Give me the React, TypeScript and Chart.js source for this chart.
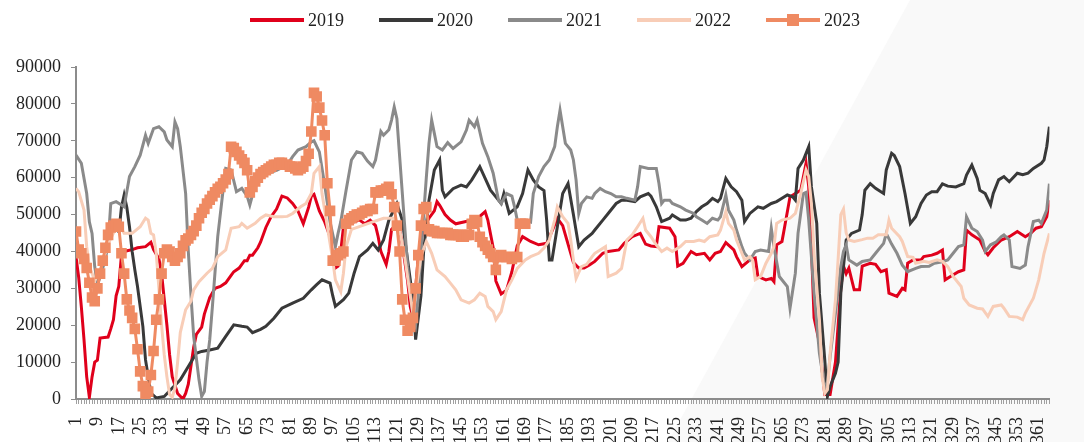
import React, { useEffect, useRef } from 'react';
import { Chart, registerables } from 'chart.js';

Chart.register(...registerables);

const SERIES_NAMES = ['2019', '2020', '2021', '2022', '2023'];
const COLORS = ['#e0001b', '#393939', '#8a8a8a', '#f8cdb7', '#ef8a62'];
const FONT_FAMILY = '"Liberation Serif", "Times New Roman", serif';

const X_LABELS = [1, 9, 17, 25, 33, 41, 49, 57, 65, 73, 81, 89, 97, 105, 113, 121, 129, 137, 145, 153, 161, 169, 177, 185, 193, 201, 209, 217, 225, 233, 241, 249, 257, 265, 273, 281, 289, 297, 305, 313, 321, 329, 337, 345, 353, 361];
const Y_MIN = 0;
const Y_MAX = 90000;
const Y_STEP = 10000;

// [day, value]
const s2019: [number, number][] = [[1,38500],[2,33000],[3,25000],[4,16000],[5,6000],[6,500],[7,6000],[8,10000],[9,10500],[10,16500],[13,16800],[14,19000],[15,21500],[16,28000],[17,30500],[18,39000],[19,40000],[22,40500],[24,41000],[27,41300],[29,42500],[30,40500],[32,38000],[33,34000],[35,20000],[36,12000],[37,6000],[39,1500],[41,0],[42,1500],[43,4000],[44,9000],[45,14000],[46,17500],[48,19500],[49,23000],[51,27500],[53,30000],[55,30500],[57,31500],[59,33500],[60,34500],[62,35500],[64,37500],[65,37500],[66,39000],[67,39000],[69,41000],[70,42500],[72,46500],[74,49500],[76,51500],[78,55000],[80,54500],[82,53000],[84,51000],[86,47500],[88,52000],[89,55000],[90,55500],[92,51000],[94,48000],[96,44000],[97,39000],[98,35500],[99,36000],[100,40000],[101,46500],[103,49000],[105,48000],[107,48500],[109,47500],[111,48500],[113,47000],[114,44000],[115,40000],[117,36500],[118,40000],[119,46000],[121,47500],[122,46000],[123,42000],[125,32000],[126,25000],[127,22000],[128,30000],[129,38500],[130,43000],[131,46500],[133,49000],[135,51000],[136,53500],[137,52500],[139,50000],[141,48500],[143,47500],[146,48000],[149,48500],[152,49500],[154,50800],[155,48500],[157,41000],[158,32000],[160,28500],[162,29500],[164,34500],[166,41500],[168,44000],[171,42700],[174,41800],[177,42200],[179,45500],[181,49000],[183,47000],[185,42000],[187,37000],[189,35500],[191,35500],[193,36300],[195,37300],[198,39500],[200,40000],[204,40400],[206,42200],[209,44000],[212,44900],[214,42000],[216,41500],[218,41300],[219,46700],[223,46300],[225,44000],[226,36000],[228,36800],[231,40000],[233,39100],[236,39500],[238,37700],[240,39500],[242,40000],[244,42400],[247,40400],[248,38600],[250,35900],[253,37700],[255,38200],[256,33200],[259,32300],[261,32700],[262,31800],[263,41800],[265,42700],[266,46700],[268,54800],[270,55700],[272,56600],[274,63900],[275,57500],[276,41300],[277,22000],[279,15200],[280,8000],[281,1200],[283,1200],[285,10000],[286,20000],[287,30000],[288,36000],[289,34000],[290,35500],[292,29600],[294,29600],[295,36000],[298,36800],[300,36500],[302,34500],[304,35000],[305,28700],[308,27800],[310,30000],[311,29600],[312,36800],[314,37700],[317,37700],[318,38600],[321,39000],[323,39500],[325,40400],[326,32300],[328,33200],[331,34500],[333,35000],[334,45800],[336,44500],[339,43100],[341,40000],[342,39100],[344,41000],[347,43100],[350,44000],[353,45400],[356,44000],[358,44900],[360,46300],[362,46700],[364,49400],[365,53900]];

const s2020: [number, number][] = [[17,45000],[18,52000],[19,55300],[20,52000],[21,46700],[22,40000],[23,35000],[24,30500],[26,19700],[27,10600],[29,1600],[31,300],[34,700],[37,3000],[40,5200],[43,8800],[46,12400],[48,12900],[51,13300],[54,13800],[57,17000],[60,20100],[63,19700],[65,19500],[67,18000],[70,18900],[72,19700],[75,21900],[78,24600],[82,26000],[86,27300],[89,29600],[91,31000],[93,32300],[96,31400],[97,28000],[98,25100],[101,26900],[103,28700],[105,34100],[107,38600],[110,40400],[112,42200],[114,40400],[116,43100],[118,48500],[121,53000],[123,48500],[125,37700],[127,26900],[128,16100],[130,28000],[131,40000],[132,47000],[133,53900],[135,62100],[137,64800],[138,56600],[139,54800],[142,57000],[145,58000],[147,57500],[149,59400],[152,63000],[154,59800],[156,56600],[158,54800],[160,53000],[161,55700],[163,50300],[166,52100],[168,55700],[170,62100],[172,59400],[174,57500],[176,56500],[177,48500],[178,37700],[179,37700],[181,46700],[183,55700],[185,58400],[187,50000],[189,41300],[191,43100],[194,44900],[195,45800],[198,48500],[200,50300],[203,53000],[205,53900],[207,53900],[210,53500],[212,54800],[215,55700],[216,55000],[218,52100],[220,48100],[223,49000],[224,49900],[227,48500],[229,48500],[231,49000],[233,50800],[235,52100],[237,53000],[239,54400],[241,53500],[242,54400],[244,59800],[246,57500],[248,56200],[250,53900],[251,48100],[253,50300],[256,52100],[258,51700],[261,53000],[263,53500],[265,54400],[267,55300],[269,54800],[270,53900],[271,62500],[273,64800],[275,68400],[276,57500],[278,47600],[279,28700],[281,10600],[282,700],[283,3400],[285,7000],[286,10000],[287,28700],[289,43100],[291,44900],[294,45800],[295,50000],[296,56600],[298,58400],[300,57100],[303,55700],[304,62100],[306,66600],[307,66000],[309,63000],[311,55700],[313,47600],[315,49400],[317,53000],[319,55300],[321,56200],[323,56200],[325,58300],[327,57700],[330,57500],[333,58400],[334,60700],[336,63400],[338,59800],[339,56600],[341,55700],[343,52600],[344,55700],[346,59400],[348,60300],[350,58900],[353,61200],[355,60800],[357,61200],[359,62500],[362,63900],[363,64800],[364,68400],[365,73800]];

const s2021: [number, number][] = [[1,66100],[3,63900],[5,55700],[6,48000],[7,44900],[8,35900],[9,31000],[10,33000],[12,38000],[13,42000],[14,53000],[16,53500],[18,52600],[19,52100],[21,60300],[23,63000],[25,66100],[27,71500],[28,69300],[30,73300],[32,73800],[34,72400],[35,70200],[37,68400],[38,75100],[39,73300],[40,68400],[42,55700],[43,40000],[44,28000],[45,17000],[47,5200],[48,700],[49,2000],[50,10000],[51,16000],[52,25000],[54,44000],[56,56600],[57,62500],[59,62100],[61,56200],[63,57100],[65,55000],[66,52600],[68,58000],[72,61000],[76,62000],[80,63500],[82,65700],[84,67500],[87,68400],[89,69700],[90,70000],[92,67000],[94,58000],[96,48000],[98,41300],[99,44900],[100,48000],[102,56600],[104,64800],[106,67000],[108,66600],[110,64500],[112,63000],[113,64800],[115,72500],[116,71500],[118,73000],[119,75600],[120,79200],[121,76000],[122,66000],[123,56000],[124,46000],[125,36000],[127,22400],[128,20000],[129,28000],[130,40000],[131,50000],[132,60000],[133,69300],[134,75600],[135,72000],[136,68400],[138,67500],[140,69500],[142,67900],[145,69700],[147,72900],[148,75600],[150,73800],[151,75600],[153,69300],[155,65700],[157,61200],[159,53900],[160,53000],[162,55700],[164,55000],[165,52100],[166,48500],[167,47500],[169,48500],[171,48000],[172,55700],[174,60300],[176,63000],[178,64800],[180,68400],[181,73800],[182,78300],[183,73800],[184,69300],[186,67500],[187,64800],[188,59400],[189,50300],[190,53000],[192,54800],[194,54400],[195,55700],[197,57100],[199,56200],[201,55700],[203,54800],[205,54800],[207,54400],[210,53900],[211,57500],[212,63000],[215,62500],[218,62500],[219,58400],[220,53000],[221,53900],[223,53900],[224,53000],[227,52100],[229,51200],[232,50300],[233,49400],[235,48500],[237,47600],[239,49000],[241,48500],[242,49400],[244,55300],[245,51200],[247,48500],[248,45800],[250,41300],[251,39500],[253,37700],[255,40000],[257,40400],[260,40000],[261,46300],[262,41300],[264,33200],[267,30500],[268,24600],[270,34100],[271,44900],[273,55700],[274,56000],[275,48500],[277,28700],[279,12400],[281,3000],[282,4500],[283,11500],[285,23300],[287,35900],[288,40000],[289,41800],[290,37700],[293,36300],[295,37300],[298,37700],[300,39500],[303,42200],[304,44900],[306,42000],[308,39500],[310,36300],[312,34500],[315,35400],[317,35900],[320,36000],[322,36800],[325,37200],[327,37700],[329,39500],[331,41300],[333,41800],[334,49400],[336,46300],[338,45400],[340,43100],[341,40000],[343,41800],[345,42500],[347,44000],[348,44500],[350,43100],[351,35900],[354,35400],[356,36300],[357,41300],[359,48100],[361,48500],[362,47600],[364,51200],[365,58400]];

const s2022: [number, number][] = [[1,57100],[2,56200],[4,51200],[5,41300],[6,35900],[7,34100],[8,32000],[10,35000],[13,42000],[15,45000],[17,47600],[19,44900],[22,44900],[25,46700],[27,49000],[28,48500],[29,44900],[30,44500],[31,39500],[32,30000],[33,20000],[34,12000],[35,6000],[36,1200],[37,500],[38,3000],[39,10000],[40,18000],[42,24200],[44,26500],[45,29600],[47,31800],[50,34100],[52,35400],[54,38600],[57,40400],[59,46300],[62,46700],[63,47600],[65,46300],[68,47600],[70,49000],[72,49900],[75,49400],[78,49400],[80,49500],[82,50300],[85,52100],[87,53000],[89,55700],[90,61200],[92,63000],[93,55700],[95,46700],[97,37700],[98,32300],[100,29100],[101,34100],[102,41300],[104,46000],[108,47000],[112,48000],[116,49000],[120,49000],[122,46000],[124,38000],[126,28000],[127,23300],[128,28700],[130,38600],[132,42700],[134,39500],[136,35000],[139,33200],[141,31400],[143,29600],[145,26900],[148,26000],[150,26900],[152,28700],[154,27800],[155,25100],[157,23700],[158,21500],[160,23700],[162,29600],[164,32300],[166,35400],[169,37700],[171,38600],[174,39500],[176,40900],[178,43100],[180,48500],[181,52100],[183,49400],[185,47600],[186,43100],[187,37700],[188,32700],[190,35900],[192,36500],[194,38600],[195,39500],[197,40400],[199,41300],[200,33200],[203,34100],[205,35400],[207,43100],[209,44500],[211,46700],[213,49000],[214,45800],[216,44000],[218,41800],[220,40000],[222,40900],[224,40000],[227,41300],[229,42700],[232,42700],[234,43100],[236,42700],[238,44000],[241,44500],[242,45800],[244,50800],[245,47600],[247,45800],[248,43100],[250,39500],[251,37700],[253,38600],[254,37700],[255,32300],[257,33200],[259,36800],[261,39500],[262,41300],[263,47600],[265,48500],[268,49000],[270,50300],[272,55700],[274,62100],[275,60300],[276,53000],[277,39500],[279,21500],[280,6100],[281,1500],[282,2500],[283,12400],[285,26900],[286,38000],[287,50000],[288,51500],[289,45000],[290,43100],[292,42700],[295,43200],[297,43600],[299,43600],[301,44500],[304,44500],[305,48500],[306,46300],[309,44000],[310,42700],[312,38600],[314,38400],[315,36800],[318,37300],[320,37000],[323,37700],[325,37300],[327,35900],[329,33200],[332,30500],[333,27300],[335,25500],[338,24600],[340,24400],[342,22400],[344,25100],[347,25500],[348,24600],[350,22400],[353,22200],[355,21500],[356,23300],[358,26000],[359,27300],[361,32300],[363,39500],[365,44900]];

// 2023: daily values from day 1
const v2023: number[] = [
  45400, 40500, 39500, 38000, 35500, 31500, 27500, 26500, 30000, 34000,
  37500, 41000, 44500, 46500, 47000, 47500, 46700, 39500, 34000, 27000,
  24000, 22000, 19000, 13500, 7500, 3500, 700, 2000, 6500, 13000,
  21500, 27000, 34000, 39500, 40500, 40000, 38500, 37500, 38500, 39500,
  41500, 43000, 43500, 44500, 45500, 47000, 49000, 50500, 51500, 53000,
  54000, 55000, 56000, 57000, 57500, 58500, 59500, 61000, 68400, 68000,
  67000, 66000, 65000, 64000, 62000, 56000, 57500, 59000, 60000, 61000,
  61500, 62000, 62500, 63000, 63500, 63500, 64000, 64000, 63500, 63500,
  63000, 63000, 62500, 62000, 62500, 63000, 64500, 66500, 72500, 83000,
  82000, 79000, 75500, 71500, 58500, 51000, 37500, 37500, 39000, 39500,
  40000, 47500, 48500, 49000, 49500, 50000, 50000, 50500, 51000, 51000,
  51500, 51500, 56000, 56000, 56500, 56500, 57000, 57500, 55500, 52000,
  47000, 40000, 27000, 21500, 18500, 19500, 22000, 30000, 39000, 47000,
  51500, 52000, 46000, 45500, 45500, 45000, 45000, 45000, 45000, 45000,
  44500, 44500, 44500, 44500, 44000, 44000, 44500, 44500, 47500, 48500,
  48000, 44000, 42500, 41500, 40500, 39500, 38500, 35000, 38500, 39000,
  38500, 38500, 38500, 38000, 38500, 38500, 47500, 47500, 47500
];

const toXY = (pairs: [number, number][]) => pairs.map(([x, y]) => ({ x, y }));

const backgroundPlugin = {
  id: 'bgShape',
  beforeDraw(chart: any) {
    const { ctx, width, height } = chart;
    ctx.save();
    ctx.fillStyle = '#ffffff';
    ctx.fillRect(0, 0, width, height);
    ctx.fillStyle = '#f9f9f9';
    ctx.beginPath();
    ctx.moveTo(910, 0);
    ctx.lineTo(width, 0);
    ctx.lineTo(width, height);
    ctx.lineTo(668, height);
    ctx.closePath();
    ctx.fill();
    ctx.restore();
  },
};

const legendPlugin = {
  id: 'customLegend',
  afterDraw(chart: any) {
    const { ctx } = chart;
    const x0 = 250;
    const step = 129;
    const yc = 20;
    const lineLen = 54;
    ctx.save();
    SERIES_NAMES.forEach((name, i) => {
      const x = x0 + i * step;
      ctx.strokeStyle = COLORS[i];
      ctx.lineWidth = 4;
      ctx.lineCap = 'butt';
      ctx.beginPath();
      ctx.moveTo(x, yc);
      ctx.lineTo(x + lineLen, yc);
      ctx.stroke();
      if (i === 4) {
        ctx.fillStyle = COLORS[i];
        ctx.fillRect(x + lineLen / 2 - 6, yc - 6, 12, 12);
      }
      ctx.fillStyle = '#222222';
      ctx.font = `18px ${FONT_FAMILY}`;
      ctx.textAlign = 'left';
      ctx.textBaseline = 'middle';
      ctx.fillText(name, x + lineLen + 4, yc + 1);
    });
    ctx.restore();
  },
};

export default function App() {
  const canvasRef = useRef<HTMLCanvasElement | null>(null);

  useEffect(() => {
    const canvas = canvasRef.current;
    if (!canvas) return;
    const lineSets = [s2019, s2020, s2021, s2022];
    const datasets: any[] = lineSets.map((s, i) => ({
      label: SERIES_NAMES[i],
      data: toXY(s),
      borderColor: COLORS[i],
      backgroundColor: COLORS[i],
      borderWidth: 3,
      pointRadius: 0,
      tension: 0,
      order: 4 - i,
    }));
    datasets.push({
      label: SERIES_NAMES[4],
      data: v2023.map((v, i) => ({ x: i + 1, y: v })),
      borderColor: COLORS[4],
      backgroundColor: COLORS[4],
      borderWidth: 3,
      pointRadius: 7.5,
      pointStyle: 'rect',
      pointBackgroundColor: COLORS[4],
      pointBorderColor: COLORS[4],
      pointBorderWidth: 0,
      tension: 0,
      order: 0,
    });

    const chart = new Chart(canvas, {
      type: 'line',
      data: { datasets },
      options: {
        responsive: false,
        animation: false,
        events: [],
        layout: { padding: { left: 0, right: 2, top: 67, bottom: 0 } },
        plugins: {
          legend: { display: false },
          tooltip: { enabled: false },
        },
        scales: {
          x: {
            type: 'linear',
            min: 1,
            max: 365,
            afterFit: (s: any) => { s.height = 43; },
            ticks: {
              stepSize: 1,
              maxTicksLimit: 400,
              autoSkip: false,
              minRotation: 90,
              maxRotation: 90,
              padding: 13,
              color: '#222222',
              font: { family: FONT_FAMILY, size: 18 },
              callback: (v: any) => (X_LABELS.includes(Number(v)) ? String(v) : ''),
            },
            grid: {
              display: true,
              drawOnChartArea: false,
              drawTicks: true,
              tickLength: 5,
              color: '#a0a0a0',
              lineWidth: 1,
            },
            border: { display: true, color: '#8c8c8c', width: 2 },
          },
          y: {
            min: Y_MIN,
            max: Y_MAX,
            afterFit: (s: any) => { s.width = 76; },
            ticks: {
              stepSize: Y_STEP,
              padding: 10,
              color: '#222222',
              font: { family: FONT_FAMILY, size: 18 },
              callback: (v: any) => String(v),
            },
            grid: {
              display: true,
              drawOnChartArea: false,
              drawTicks: true,
              tickLength: 5,
              color: '#8c8c8c',
              lineWidth: 1,
            },
            border: { display: true, color: '#8c8c8c', width: 2 },
          },
        },
      },
      plugins: [backgroundPlugin, legendPlugin],
    });
    return () => chart.destroy();
  }, []);

  return (
    <div style={{ position: 'absolute', left: 0, top: 0, width: 1084, height: 442 }}>
      <canvas ref={canvasRef} width={1084} height={442} style={{ width: 1084, height: 442, display: 'block' }} />
    </div>
  );
}
